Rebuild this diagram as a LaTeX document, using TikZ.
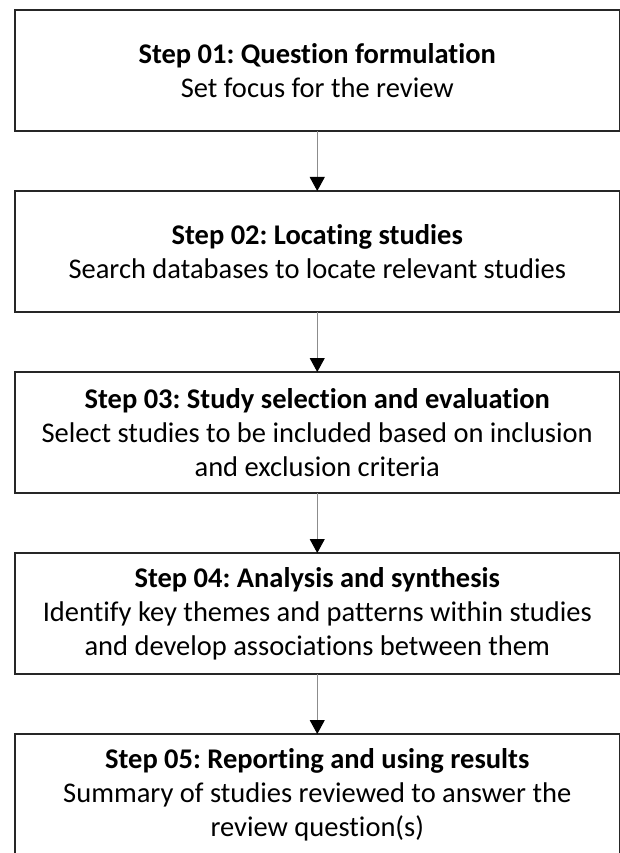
\documentclass[tikz,border=0pt]{standalone}
\usepackage{fontspec}
\setmainfont[Ligatures={NoCommon}]{Carlito}
\usepackage{tikz}
\usetikzlibrary{calc, math}
\usetikzlibrary{arrows.meta}
\usetikzlibrary{positioning}
\definecolor{framecolor}{gray}{0.15}
\definecolor{linkcolor}{gray}{0.55}
\frenchspacing

\begin{document}
\begin{tikzpicture}[x=1pt, y=-1pt,
  stepbox/.style={draw=framecolor, line width=1.8pt, rectangle, outer sep=0pt, inner sep=0pt,
    minimum width=604.5pt, minimum height=121pt, align=center, font=\fontsize{28.5}{34}\selectfont},
  link/.style={draw=linkcolor, line width=1pt, -{Triangle[width=15pt, length=14pt, color=black]}}]
  \tikzmath{
    \xmin=0;
    \xmax=620;
    \ymin=0;
    \ymax=853;
    \gap=60;
  }
  \useasboundingbox (\xmin, \ymin) rectangle (\xmax, \ymax);
  \clip (\xmin, \ymin) rectangle (\xmax, \ymax);

  % The five steps of the review
  \node[stepbox] (s1) at (317.25, 70.5) {\textbf{Step 01: Question formulation}\\Set focus for the review};
  \node[stepbox, below=\gap pt of s1] (s2) {\textbf{Step 02: Locating studies}\\Search databases to locate relevant studies};
  \node[stepbox, below=\gap pt of s2] (s3) {\textbf{Step 03: Study selection and evaluation}\\Select studies to be included based on inclusion\\and exclusion criteria};
  \node[stepbox, below=\gap pt of s3] (s4) {\textbf{Step 04: Analysis and synthesis}\\Identify key themes and patterns within studies\\and develop associations between them};
  \node[stepbox, below=\gap pt of s4] (s5) {\textbf{Step 05: Reporting and using results}\\Summary of studies reviewed to answer the\\review question(s)};

  % Connectors
  \draw[link] (s1) -- (s2);
  \draw[link] (s2) -- (s3);
  \draw[link] (s3) -- (s4);
  \draw[link] (s4) -- (s5);
\end{tikzpicture}
\end{document}
